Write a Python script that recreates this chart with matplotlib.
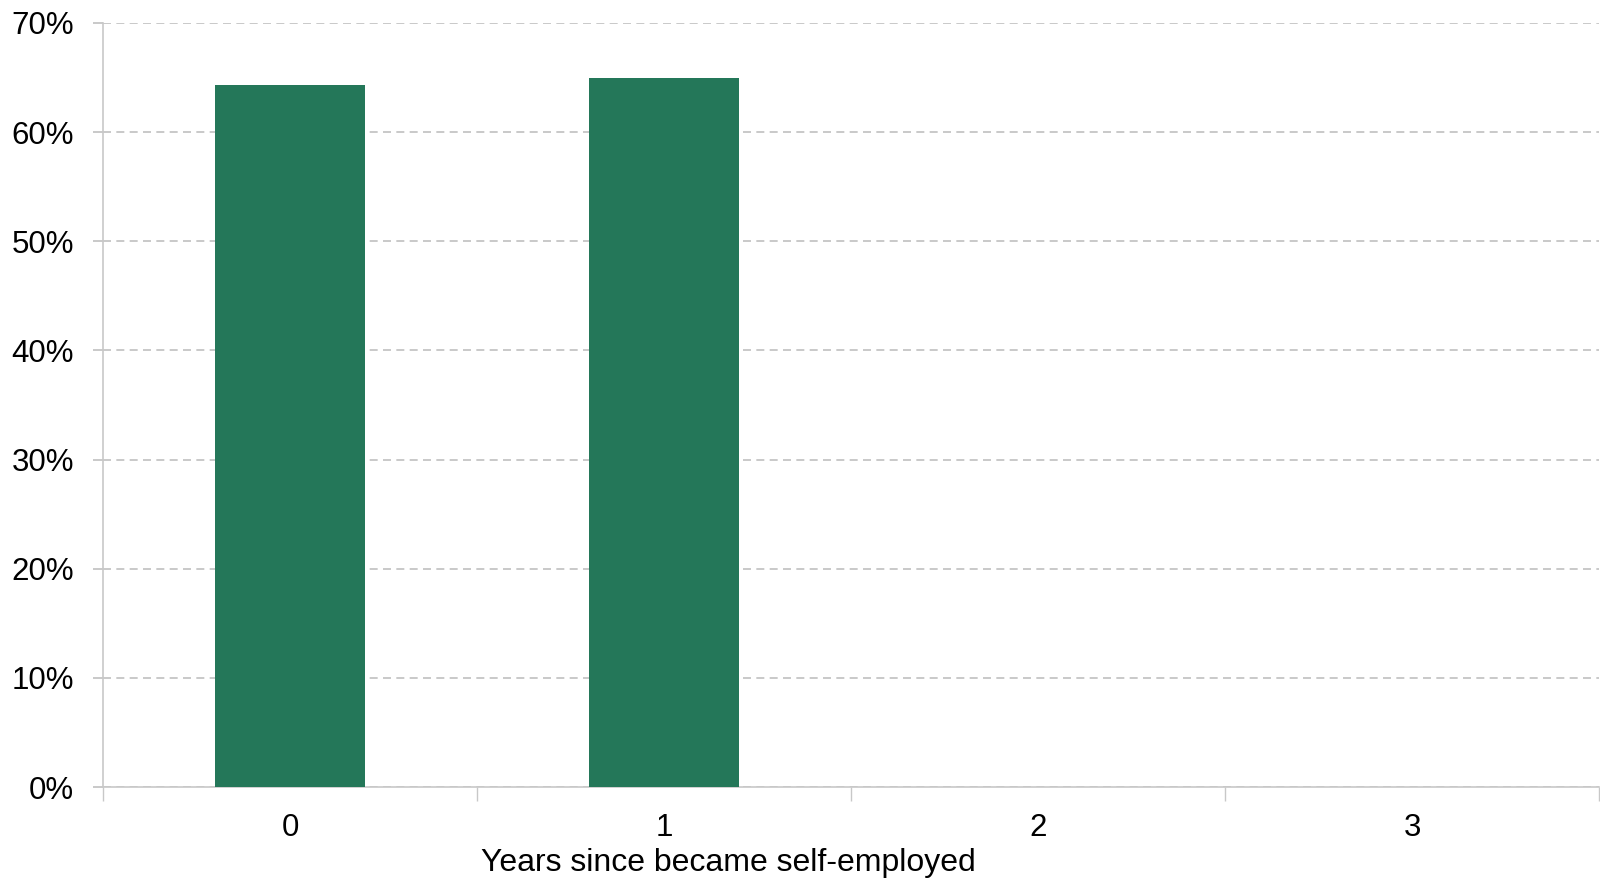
import matplotlib.pyplot as plt
from matplotlib.ticker import FixedLocator, PercentFormatter

plt.rcParams['font.family'] = ['Liberation Sans', 'DejaVu Sans']

# share of newly self-employed, by years since starting
years = ['0', '1', '2', '3']
share = [64.3, 65.0, None, None]

BAR_COLOR = '#247759'
GRID_COLOR = '#c0c0c0'
AXIS_COLOR = '#c8c8c8'
FS = 22.5

fig = plt.figure(figsize=(16, 8.8), dpi=100)
ax = fig.add_axes([103 / 1600, 93 / 880, 1496 / 1600, 764 / 880])

xs = [i for i, v in enumerate(share) if v is not None]
vals = [v for v in share if v is not None]
ax.bar(xs, vals, width=0.4, color=BAR_COLOR, linewidth=0, zorder=3)

ax.set_xlim(-0.5, len(years) - 0.5)
ax.set_ylim(0, 70)
ax.yaxis.set_major_locator(FixedLocator(range(0, 71, 10)))
ax.yaxis.set_major_formatter(PercentFormatter(decimals=0))
ax.grid(axis='y', color=GRID_COLOR, linestyle=(0, (4.8, 3.2)), linewidth=1.2, zorder=0)

# category labels centred, tick marks at category boundaries
ax.set_xticks(range(len(years)))
ax.set_xticklabels(years)
ax.set_xticks([i - 0.5 for i in range(len(years) + 1)], minor=True)
ax.tick_params(axis='x', which='major', length=0, pad=19, labelsize=FS)
ax.tick_params(axis='x', which='minor', length=10, width=1, color=AXIS_COLOR)
ax.tick_params(axis='y', length=7.2, width=1.2, color=GRID_COLOR, pad=13.5, labelsize=FS)

for side in ('top', 'right'):
    ax.spines[side].set_visible(False)
for side in ('left', 'bottom'):
    ax.spines[side].set_color(AXIS_COLOR)
    ax.spines[side].set_linewidth(1.2)

fig.text(728 / 1600, (880 - 863) / 880, 'Years since became self-employed',
         fontsize=23, ha='center', va='center')

fig.savefig('out.png', dpi=100)
